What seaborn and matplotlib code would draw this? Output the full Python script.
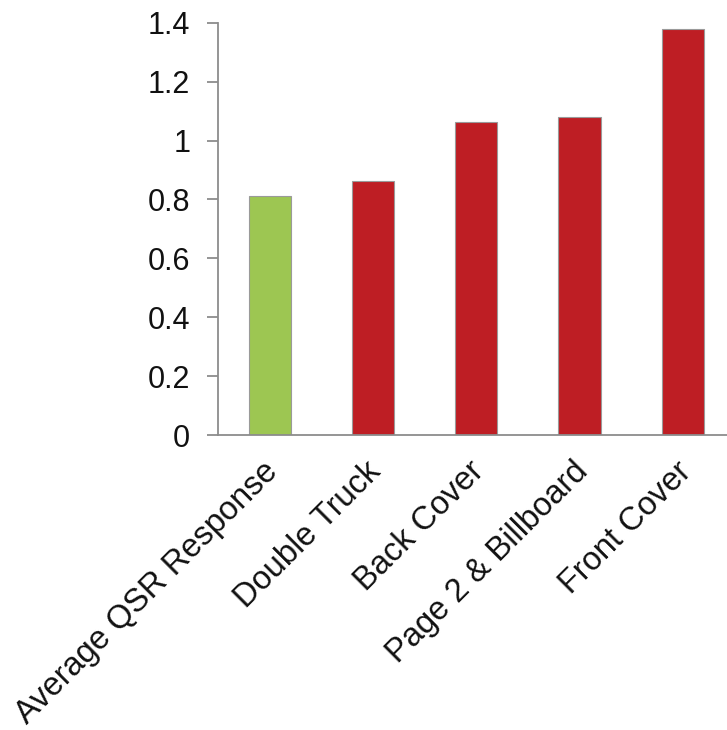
import matplotlib
matplotlib.use("Agg")
import matplotlib.pyplot as plt
import matplotlib.transforms as mtransforms
import seaborn as sns

categories = ["Average QSR Response", "Double Truck", "Back Cover",
              "Page 2 & Billboard", "Front Cover"]
values = [0.81, 0.862, 1.062, 1.079, 1.38]
bar_colors = ["#9DC652", "#BE1E24", "#BE1E24", "#BE1E24", "#BE1E24"]
y_ticks = [0, 0.2, 0.4, 0.6, 0.8, 1.0, 1.2, 1.4]
y_tick_labels = ["0", "0.2", "0.4", "0.6", "0.8", "1", "1.2", "1.4"]

sns.set_style("white")
plt.rcParams["font.family"] = ["Liberation Sans", "DejaVu Sans"]

fig = plt.figure(figsize=(7.27, 7.30), dpi=100)
ax = fig.add_axes([0.2999, 0.4041, 0.7001, 0.5648])

sns.barplot(x=categories, y=values, hue=categories, palette=bar_colors,
            legend=False, width=0.41, edgecolor="#9a9a9a", linewidth=0.8,
            saturation=1, ax=ax)

ax.set_xlim(-0.5, 4.427)
ax.set_ylim(0, 1.4)
ax.set_yticks(y_ticks)
ax.set_yticklabels(y_tick_labels)

for side in ("top", "right"):
    ax.spines[side].set_visible(False)
for side in ("left", "bottom"):
    ax.spines[side].set_color("#8c8c8c")
    ax.spines[side].set_linewidth(1.3)

ax.tick_params(axis="y", which="major", length=8, width=1.3,
               color="#8c8c8c", direction="out", left=True,
               labelsize=22, pad=12, labelcolor="#111111")
ax.tick_params(axis="x", which="major", length=0, labelsize=23.5, pad=10,
               labelcolor="#111111")

# slide the slanted category labels a little further down-left
shift = mtransforms.ScaledTranslation(-0.075, -0.07, fig.dpi_scale_trans)
for lbl in ax.get_xticklabels():
    lbl.set_rotation(45)
    lbl.set_ha("right")
    lbl.set_va("top")
    lbl.set_rotation_mode("anchor")
    lbl.set_transform(lbl.get_transform() + shift)

ax.set_xlabel("")
ax.set_ylabel("")

fig.savefig("out.png", dpi=100, facecolor="white")
